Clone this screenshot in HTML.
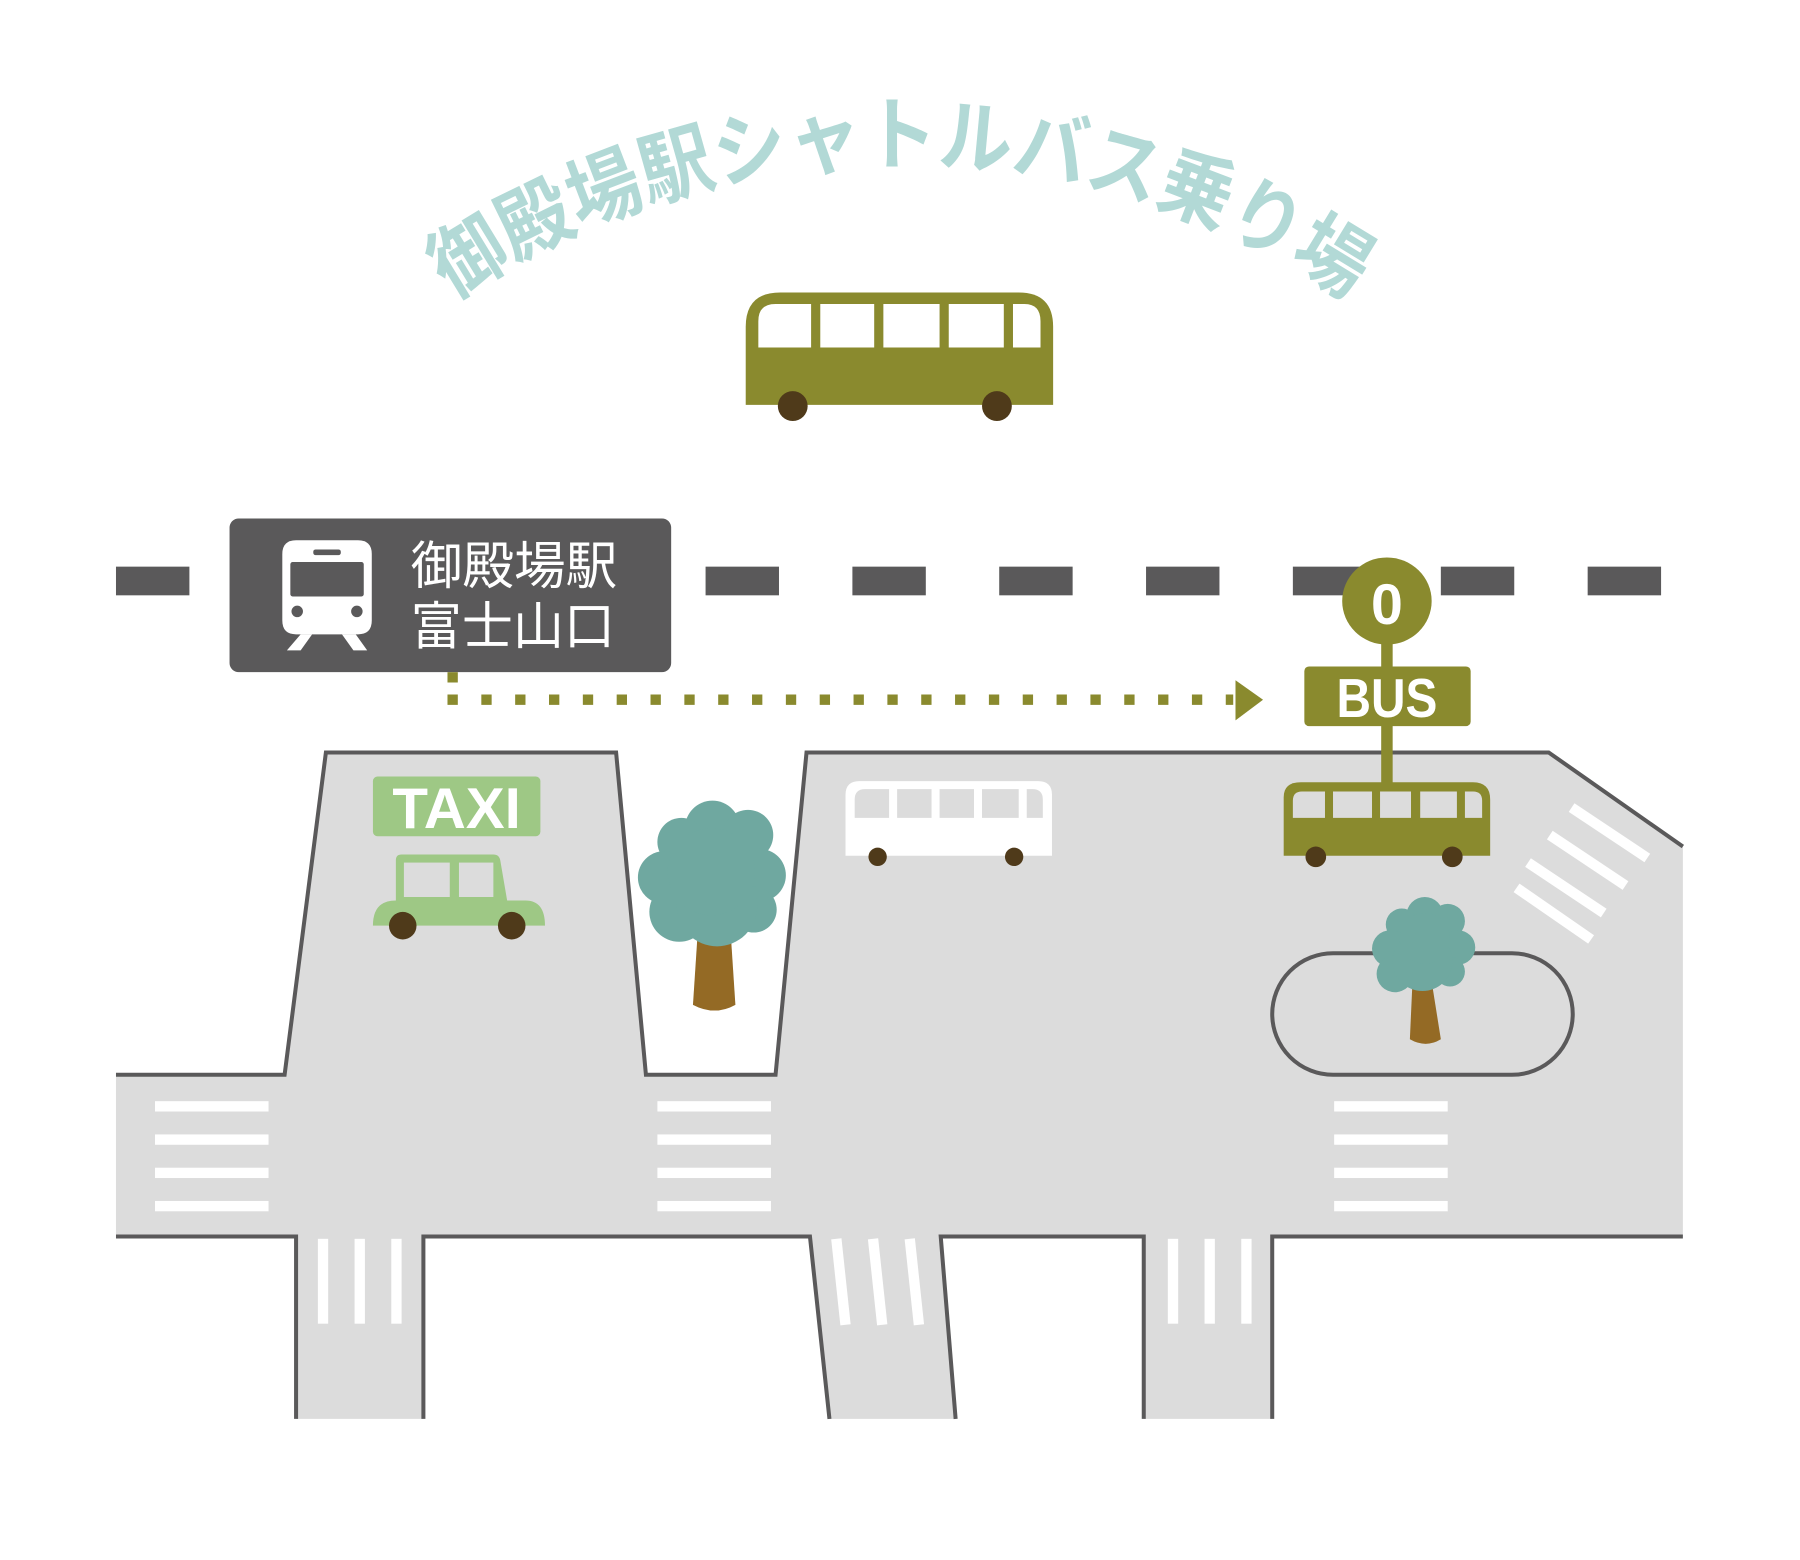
<!DOCTYPE html>
<html><head><meta charset="utf-8"><style>
html,body{margin:0;padding:0;background:#fff;}
svg{display:block;}
</style></head><body>
<svg width="1800" height="1560" viewBox="0 0 1569 1360" xmlns="http://www.w3.org/2000/svg">
<defs>
<path id="arc" d="M 85 842 A 700 700 0 0 1 1485 842"/>
</defs>
<!-- Title -->
<text font-family="'Liberation Sans','Noto Sans CJK JP',sans-serif" font-weight="bold" font-size="70" fill="#b2d9d6">
<textPath href="#arc" startOffset="50%" text-anchor="middle" textLength="830" lengthAdjust="spacingAndGlyphs">御殿場駅シャトルバス乗り場</textPath>
</text>

<!-- Top bus -->
<path d="M650 353 V285 Q650 255 680 255 H888 Q918 255 918 285 V353 Z" fill="#8a8a2e"/>
<path d="M661 303 V280 Q661 265 676 265 H707 V303 Z M715 265 H762 V303 H715 Z M770 265 H819 V303 H770 Z M827 265 H875 V303 H827 Z M883 265 H893 Q907 265 907 280 V303 H883 Z" fill="#fff"/>
<circle cx="691" cy="354" r="13" fill="#4f3a1a"/>
<circle cx="869" cy="354" r="13" fill="#4f3a1a"/>

<!-- dashes -->
<g fill="#5a595a">
<rect x="101" y="494" width="64" height="25"/>
<rect x="615" y="494" width="64" height="25"/>
<rect x="743" y="494" width="64" height="25"/>
<rect x="871" y="494" width="64" height="25"/>
<rect x="999" y="494" width="64" height="25"/>
<rect x="1127" y="494" width="64" height="25"/>
<rect x="1256" y="494" width="64" height="25"/>
<rect x="1384" y="494" width="64" height="25"/>
</g>

<!-- Station sign -->
<rect x="200" y="452" width="385" height="134" rx="8" fill="#5a595a"/>
<g fill="#fff">
<path d="M258 471 H312 Q324 471 324 483 V541 Q324 553 312 553 H258 Q246 553 246 541 V483 Q246 471 258 471 Z"/>
<path d="M262 553 L250 567 H262 L272 553 Z M298 553 L308 567 H320 L310 553 Z"/>
</g>
<rect x="253" y="490" width="64" height="30" rx="2" fill="#5a595a"/>
<rect x="273" y="479" width="24" height="5" rx="2" fill="#5a595a"/>
<circle cx="259" cy="533" r="5" fill="#5a595a"/>
<circle cx="311" cy="533" r="5" fill="#5a595a"/>
<text x="358" y="509" font-family="'Liberation Sans','Noto Sans CJK JP',sans-serif" font-size="45" fill="#fff" textLength="180" lengthAdjust="spacingAndGlyphs">御殿場駅</text>
<text x="358" y="562" font-family="'Liberation Sans','Noto Sans CJK JP',sans-serif" font-size="45" fill="#fff" textLength="178" lengthAdjust="spacingAndGlyphs">富士山口</text>

<!-- dotted arrow -->
<rect x="390" y="586" width="9" height="9" fill="#8a8a2e"/>
<line x1="390" y1="610" x2="1075" y2="610" stroke="#8a8a2e" stroke-width="9" stroke-dasharray="9 20.5"/>
<polygon points="1077,593 1101,610 1077,628" fill="#8a8a2e"/>

<!-- Road -->
<polygon points="101,937 248,937 284,656 537,656 563,937 676,937 703,656 1350,656 1467,738 1467,1078 1109,1078 1109,1237 997,1237 997,1078 820,1078 833,1237 723,1237 706,1078 369,1078 369,1237 258,1237 258,1078 101,1078" fill="#dcdcdc"/>
<g fill="none" stroke="#5a595a" stroke-width="3.5" stroke-linejoin="miter">
<polyline points="101,937 248,937 284,656 537,656 563,937 676,937 703,656 1350,656 1467,738"/>
<polyline points="101,1078 258,1078 258,1237"/>
<polyline points="369,1237 369,1078 706,1078 723,1237"/>
<polyline points="833,1237 820,1078 997,1078 997,1237"/>
<polyline points="1109,1237 1109,1078 1467,1078"/>
</g>
<!-- crosswalks -->
<g fill="#fff">
<rect x="135" y="960" width="99" height="9"/><rect x="135" y="989" width="99" height="9"/><rect x="135" y="1018" width="99" height="9"/><rect x="135" y="1047" width="99" height="9"/>
<rect x="573" y="960" width="99" height="9"/><rect x="573" y="989" width="99" height="9"/><rect x="573" y="1018" width="99" height="9"/><rect x="573" y="1047" width="99" height="9"/>
<rect x="1163" y="960" width="99" height="9"/><rect x="1163" y="989" width="99" height="9"/><rect x="1163" y="1018" width="99" height="9"/><rect x="1163" y="1047" width="99" height="9"/>
<rect x="277" y="1080" width="9" height="74"/><rect x="309" y="1080" width="9" height="74"/><rect x="341" y="1080" width="9" height="74"/>
<rect x="1018" y="1080" width="9" height="74"/><rect x="1050" y="1080" width="9" height="74"/><rect x="1082" y="1080" width="9" height="74"/>
</g>
<g stroke="#fff" stroke-width="9">
<line x1="729" y1="1080" x2="737" y2="1155"/><line x1="761" y1="1080" x2="769" y2="1155"/><line x1="793" y1="1080" x2="801" y2="1155"/>
<line x1="1370" y1="704" x2="1436" y2="748"/><line x1="1351" y1="728" x2="1417" y2="772"/><line x1="1332" y1="752" x2="1398" y2="796"/><line x1="1322" y1="774" x2="1387" y2="819"/>
</g>

<!-- Taxi -->
<rect x="325" y="677" width="146" height="52" rx="4" fill="#9ec885"/>
<text x="398" y="722" font-family="'Liberation Sans',sans-serif" font-weight="bold" font-size="50" fill="#fff" text-anchor="middle" textLength="112" lengthAdjust="spacingAndGlyphs">TAXI</text>
<path d="M345 785 V750 Q345 745 350 745 H430 Q435 745 436 750 L442 785 H458 Q475 785 475 807 H325 Q325 785 345 785 Z" fill="#9ec885"/>
<rect x="352" y="752" width="40" height="30" fill="#dcdcdc"/>
<rect x="400" y="752" width="30" height="30" fill="#dcdcdc"/>
<circle cx="351" cy="807" r="12" fill="#4f3a1a"/>
<circle cx="446" cy="807" r="12" fill="#4f3a1a"/>

<!-- Big tree -->
<path d="M608 815 L637 815 L641 876 Q623 886 604 876 Z" fill="#946a25"/>
<g fill="#6fa8a0">
<circle cx="621" cy="722" r="24"/><circle cx="652" cy="728" r="22"/><circle cx="594" cy="734" r="21"/>
<circle cx="579" cy="765" r="23"/><circle cx="662" cy="763" r="23"/><circle cx="592" cy="795" r="26"/>
<circle cx="657" cy="793" r="20"/><circle cx="625" cy="790" r="35"/><circle cx="620" cy="760" r="38"/>
</g>

<!-- White bus -->
<path d="M737 746 V693 Q737 681 749 681 H905 Q917 681 917 693 V746 Z" fill="#fff"/>
<path d="M745 713 V697 Q745 688 754 688 H775 V713 Z M782 688 H812 V713 H782 Z M819 688 H849 V713 H819 Z M856 688 H888 V713 H856 Z M895 688 H900 Q909 688 909 697 V713 H895 Z" fill="#dcdcdc"/>
<circle cx="765" cy="747" r="8" fill="#4f3a1a"/>
<circle cx="884" cy="747" r="8" fill="#4f3a1a"/>

<!-- Bus stop -->
<rect x="1204" y="550" width="10" height="135" fill="#8a8a2e"/>
<ellipse cx="1209" cy="524" rx="39" ry="38" fill="#8a8a2e"/>
<text x="1209" y="544" font-family="'Liberation Sans',sans-serif" font-weight="bold" font-size="50" fill="#fff" text-anchor="middle">0</text>
<rect x="1137" y="581" width="145" height="52" rx="4" fill="#8a8a2e"/>
<text x="1209" y="625" font-family="'Liberation Sans',sans-serif" font-weight="bold" font-size="48" fill="#fff" text-anchor="middle" textLength="88" lengthAdjust="spacingAndGlyphs">BUS</text>
<path d="M1119 746 V695 Q1119 682 1134 682 H1284 Q1299 682 1299 697 V746 Z" fill="#8a8a2e"/>
<path d="M1127 713 V698 Q1127 690 1135 690 H1155 V713 Z M1162 690 H1196 V713 H1162 Z M1203 690 H1230 V713 H1203 Z M1238 690 H1270 V713 H1238 Z M1277 690 H1284 Q1292 690 1292 698 V713 H1277 Z" fill="#dcdcdc"/>
<circle cx="1147" cy="747" r="9" fill="#4f3a1a"/>
<circle cx="1266" cy="747" r="9" fill="#4f3a1a"/>

<!-- Oval island -->
<rect x="1109" y="831" width="262" height="106" rx="53" fill="#dcdcdc" stroke="#5a595a" stroke-width="3.5"/>
<path d="M1231 862 L1249 862 L1256 906 Q1243 914 1229 906 Z" fill="#946a25"/>
<g fill="#6fa8a0">
<circle cx="1242" cy="798" r="16"/><circle cx="1262" cy="803" r="15"/><circle cx="1222" cy="806" r="14"/>
<circle cx="1212" cy="827" r="16"/><circle cx="1271" cy="826" r="15"/><circle cx="1216" cy="849" r="16"/>
<circle cx="1264" cy="847" r="13"/><circle cx="1240" cy="838" r="26"/><circle cx="1242" cy="818" r="22"/>
</g>
</svg>
</body></html>
